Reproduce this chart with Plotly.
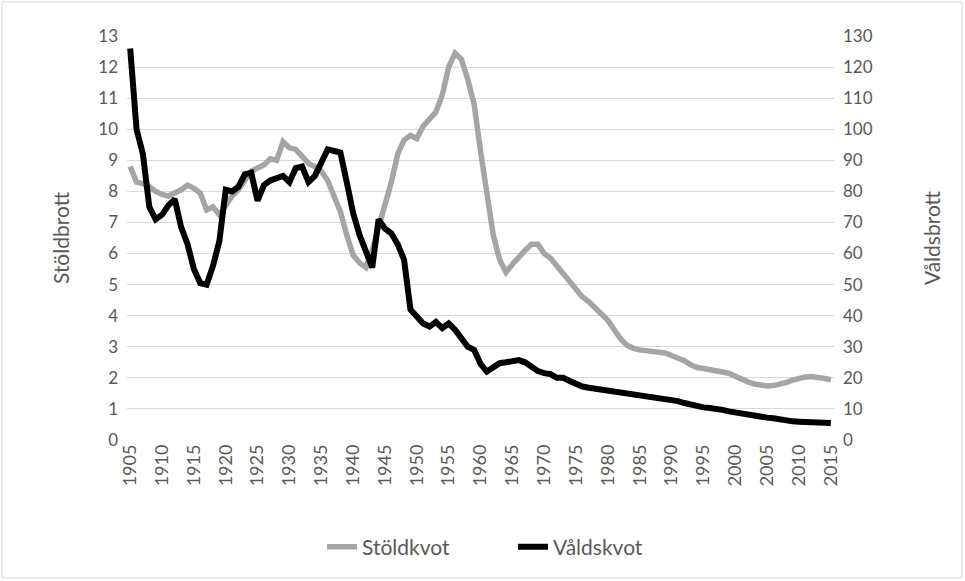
import plotly.graph_objects as go

years = list(range(1905, 2016))

stoldkvot = [
    8.8, 8.3, 8.25, 8.15, 8.0, 7.9, 7.85, 7.95, 8.05, 8.2,      # 1905-1914
    8.1, 7.95, 7.4, 7.5, 7.25, 7.55, 7.85, 8.05, 8.35, 8.65,    # 1915-1924
    8.75, 8.85, 9.05, 9.0, 9.6, 9.4, 9.35, 9.15, 8.9, 8.8,      # 1925-1934
    8.65, 8.35, 7.9, 7.35, 6.6, 5.95, 5.7, 5.55, 6.1, 6.8,      # 1935-1944
    7.5, 8.3, 9.2, 9.65, 9.8, 9.7, 10.1, 10.35, 10.55, 11.1,    # 1945-1954
    12.0, 12.45, 12.25, 11.6, 10.8, 9.3, 7.9, 6.6, 5.8, 5.4,    # 1955-1964
    5.65, 5.9, 6.1, 6.3, 6.3, 6.0, 5.85, 5.6, 5.35, 5.05,       # 1965-1974
    4.8, 4.6, 4.45, 4.25, 4.1, 3.85, 3.55, 3.25, 3.05, 2.95,    # 1975-1984
    2.9, 2.88, 2.87, 2.85, 2.8, 2.72, 2.65, 2.55, 2.42, 2.33,   # 1985-1994
    2.3, 2.27, 2.25, 2.22, 2.15, 2.05, 1.95, 1.87, 1.8, 1.76,   # 1995-2004
    1.74, 1.75, 1.78, 1.85, 1.93, 2.0, 2.03, 2.04, 2.03, 1.98,  # 2005-2014
    1.94,                                                       # 2015
]

valdskvot = [
    126, 100, 92, 75, 71, 72.5, 75.5, 77.5, 68.5, 63,          # 1905-1914
    55, 50.5, 50, 56, 64, 80.5, 80, 81.5, 85.5, 86,            # 1915-1924
    77, 82, 83.5, 84.5, 85, 83, 87.5, 88, 83, 85,              # 1925-1934
    89.5, 93.5, 93, 92.5, 83, 73, 66, 60.5, 55.5, 71,          # 1935-1944
    68, 66.5, 63, 58, 42, 39.7, 37.5, 36.5, 38, 36,            # 1945-1954
    37.5, 35.5, 33, 30, 29, 24.5, 22, 23.5, 24.7, 25,          # 1955-1964
    25.5, 25.7, 25, 23.5, 22.2, 21.5, 21.2, 20, 20, 19,        # 1965-1974
    18, 17.2, 16.8, 16.5, 16.3, 16.2, 15.8, 15.4, 15, 14.6,    # 1975-1984
    14.3, 14.2, 14, 13.7, 13.5, 13, 12.5, 11.9, 11.3, 10.8,    # 1985-1994
    10.5, 10.3, 10.1, 9.7, 9.2, 8.8, 8.5, 8, 7.7, 7.4,         # 1995-2004
    7.2, 7, 6.6, 6.3, 6, 5.9, 5.8, 5.7, 5.6, 5.6,              # 2005-2014
    5.5,                                                       # 2015
]

x_ticks = list(range(1905, 2016, 5))
left_ticks = list(range(0, 14))
right_ticks = list(range(0, 131, 10))

FONT = "Lato, 'Open Sans', sans-serif"
TXT = "#595959"
GRID = "#d9d9d9"

fig = go.Figure()
fig.add_trace(go.Scatter(
    x=years, y=stoldkvot, name="Stöldkvot", mode="lines",
    line=dict(color="#a5a5a5", width=5.5), yaxis="y",
))
fig.add_trace(go.Scatter(
    x=years, y=valdskvot, name="Våldskvot", mode="lines",
    line=dict(color="#000000", width=6), yaxis="y2",
))

L, R, T, B = 127, 131, 36, 141
W, H = 965, 581
pw = W - L - R
ph = H - T - B

fig.update_layout(
    width=W, height=H,
    margin=dict(l=L, r=R, t=T, b=B, autoexpand=False),
    paper_bgcolor="white", plot_bgcolor="white",
    font=dict(family=FONT, color=TXT, size=16),
    showlegend=True,
    legend=dict(
        orientation="h", x=(322 - L) / pw, xanchor="left",
        y=(H - B - 547) / ph, yanchor="middle",
        font=dict(size=21, color=TXT), itemwidth=30,
        entrywidth=146, entrywidthmode="pixels",
        traceorder="normal",
    ),
    xaxis=dict(
        range=[1904.5, 2015.5], tickmode="array", tickvals=x_ticks,
        ticktext=[str(v) for v in x_ticks], tickangle=-90,
        showgrid=False, zeroline=False, showline=False, automargin=False,
        ticks="", tickfont=dict(size=18, color=TXT),
    ),
    yaxis=dict(
        range=[0, 13], tickmode="array", tickvals=left_ticks,
        showgrid=True, gridcolor=GRID, gridwidth=1.3, zeroline=False,
        showline=False, ticks="", ticklabelstandoff=8, automargin=False,
        tickfont=dict(size=17, color=TXT),
        title=dict(text="Stöldbrott", font=dict(size=21, color=TXT), standoff=22),
    ),
    yaxis2=dict(
        range=[0, 130], tickmode="array", tickvals=right_ticks,
        overlaying="y", side="right", showgrid=False, zeroline=False,
        showline=False, ticks="", ticklabelstandoff=8, automargin=False,
        tickfont=dict(size=17, color=TXT),
        title=dict(text="Våldsbrott", font=dict(size=21, color=TXT), standoff=53),
    ),
    shapes=[dict(
        type="rect", xref="paper", yref="paper",
        x0=(2 - L) / pw, x1=(962 - L) / pw,
        y0=(H - B - 578) / ph, y1=(H - B - 2) / ph,
        line=dict(color="#d9d9d9", width=1), fillcolor="rgba(0,0,0,0)",
        layer="below",
    )],
)

fig.write_html(
    "out.html",
    config={"displayModeBar": False},
    post_script="document.body.style.margin='0';document.body.style.overflow='hidden';",
)
